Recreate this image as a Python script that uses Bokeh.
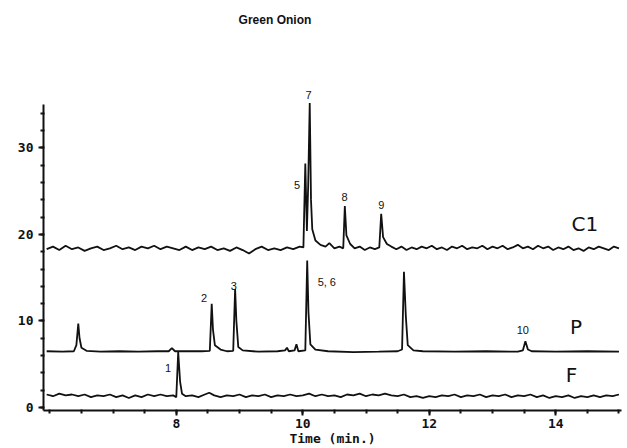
from bokeh.plotting import figure
from bokeh.models import Label, FixedTicker, Range1d
from bokeh.embed import file_html
from bokeh.resources import INLINE

# ---- data ----
c1_time = [5.95, 6.05, 6.15, 6.25, 6.35, 6.45, 6.55, 6.65, 6.75, 6.85, 6.95, 7.05, 7.15, 7.25, 7.35,
           7.45, 7.55, 7.65, 7.75, 7.85, 7.95, 8.05, 8.15, 8.25, 8.35, 8.45, 8.55, 8.65, 8.75, 8.85,
           8.95, 9.05, 9.15, 9.25, 9.35, 9.45, 9.55, 9.65, 9.75, 9.85, 9.95, 10.01, 10.04, 10.065,
           10.085, 10.11, 10.13, 10.15, 10.2, 10.28, 10.36, 10.42, 10.5, 10.58, 10.64, 10.665, 10.69,
           10.75, 10.82, 10.9, 10.98, 11.06, 11.14, 11.21, 11.24, 11.27, 11.33, 11.4, 11.48, 11.56,
           11.64, 11.72, 11.8, 11.88, 11.96, 12.04, 12.12, 12.2, 12.28, 12.36, 12.44, 12.52, 12.6,
           12.68, 12.76, 12.84, 12.92, 13.0, 13.08, 13.16, 13.24, 13.32, 13.4, 13.48, 13.56, 13.64,
           13.72, 13.8, 13.88, 13.96, 14.04, 14.12, 14.2, 14.28, 14.36, 14.44, 14.52, 14.6, 14.68,
           14.76, 14.84, 14.92, 15.0]
c1_signal = [18.3, 18.6, 18.2, 18.7, 18.3, 18.5, 18.1, 18.4, 18.6, 18.2, 18.4, 18.7, 18.3, 18.5, 18.2,
             18.6, 18.4, 18.7, 18.3, 18.6, 18.4, 18.2, 18.6, 18.2, 18.5, 18.3, 18.6, 18.2, 18.4, 18.1,
             18.5, 18.2, 17.8, 18.3, 18.6, 18.2, 18.4, 18.2, 18.5, 18.3, 18.6, 18.5, 28.2, 20.4,
             25.5, 35.2, 24.0, 20.6, 19.3, 18.8, 18.6, 19.0, 18.4, 18.6, 18.4, 23.3, 19.9,
             18.9, 18.4, 18.6, 18.2, 18.5, 18.3, 18.5, 22.4, 19.7, 18.9, 18.6, 18.3, 18.6,
             18.2, 18.5, 18.3, 18.6, 18.4, 18.7, 18.3, 18.5, 18.2, 18.6, 18.4, 18.7, 18.3,
             18.5, 18.4, 18.7, 18.3, 18.6, 18.4, 18.7, 18.3, 18.5, 18.8, 18.4, 18.6, 18.3,
             18.7, 18.4, 18.6, 18.2, 18.5, 18.3, 18.6, 18.2, 18.4, 18.1, 18.5, 18.3, 18.6,
             18.4, 18.2, 18.6, 18.4]

p_time = [5.95, 6.2, 6.38, 6.42, 6.45, 6.47, 6.5, 6.58, 6.8, 7.1, 7.4, 7.7, 7.88, 7.93, 7.98, 8.2,
          8.4, 8.53, 8.56, 8.58, 8.61, 8.7, 8.8, 8.9, 8.93, 8.95, 8.98, 9.05, 9.3, 9.6, 9.72, 9.75,
          9.78, 9.87, 9.9, 9.93, 10.04, 10.07, 10.09, 10.12, 10.2, 10.4, 10.8, 11.2, 11.5, 11.57,
          11.6, 11.63, 11.66, 11.75, 11.9, 12.4, 12.9, 13.4, 13.48, 13.52, 13.56, 13.62, 14.0,
          14.5, 15.0]
p_signal = [6.5, 6.45, 6.5, 7.2, 9.7, 8.0, 6.9, 6.55, 6.45, 6.5, 6.45, 6.5, 6.5, 6.85, 6.5, 6.5,
            6.5, 6.55, 12.0, 9.0, 7.2, 6.7, 6.5, 6.55, 13.7, 10.0, 7.0, 6.6, 6.45, 6.5, 6.6, 6.9,
            6.5, 6.6, 7.3, 6.5, 6.6, 17.0, 11.0, 7.3, 6.7, 6.5, 6.4, 6.45, 6.5, 6.7,
            15.7, 10.5, 7.2, 6.6, 6.5, 6.45, 6.5, 6.45, 6.6, 7.65, 6.7, 6.5, 6.45,
            6.5, 6.45]

f_time = [5.95, 6.05, 6.15, 6.25, 6.35, 6.45, 6.55, 6.65, 6.75, 6.85, 6.95, 7.05, 7.15, 7.25, 7.35,
          7.45, 7.55, 7.65, 7.75, 7.85, 7.95, 8.0, 8.03, 8.06, 8.09, 8.15, 8.25, 8.35, 8.45, 8.52,
          8.6, 8.7, 8.8, 8.9, 9.0, 9.1, 9.2, 9.3, 9.4, 9.5, 9.6, 9.7, 9.8, 9.9, 10.0, 10.1, 10.2,
          10.3, 10.4, 10.5, 10.6, 10.7, 10.8, 10.9, 11.0, 11.1, 11.2, 11.3, 11.4, 11.5, 11.6, 11.7,
          11.8, 11.9, 12.0, 12.1, 12.2, 12.3, 12.4, 12.5, 12.6, 12.7, 12.8, 12.9, 13.0, 13.1, 13.2,
          13.3, 13.4, 13.5, 13.6, 13.7, 13.8, 13.9, 14.0, 14.1, 14.2, 14.3, 14.4, 14.5, 14.6, 14.7,
          14.8, 14.9, 15.0]
f_signal = [1.5, 1.3, 1.6, 1.4, 1.5, 1.3, 1.5, 1.2, 1.4, 1.3, 1.5, 1.2, 1.4, 1.1, 1.4,
            1.2, 1.5, 1.3, 1.5, 1.3, 1.4, 1.2, 6.4, 3.0, 1.6, 1.3, 1.4, 1.2, 1.5, 1.7,
            1.4, 1.2, 1.4, 1.3, 1.5, 1.2, 1.4, 1.3, 1.5, 1.2, 1.4, 1.3, 1.5, 1.3, 1.4, 1.6, 1.3,
            1.5, 1.3, 1.4, 1.2, 1.5, 1.4, 1.6, 1.3, 1.5, 1.4, 1.6, 1.4, 1.3, 1.5, 1.2,
            1.3, 1.1, 1.3, 1.2, 1.4, 1.3, 1.5, 1.2, 1.4, 1.3, 1.5, 1.2, 1.4, 1.3, 1.5,
            1.2, 1.4, 1.3, 1.5, 1.2, 1.4, 1.1, 1.3, 1.2, 1.4, 1.1, 1.3, 1.2, 1.4, 1.2,
            1.4, 1.3, 1.5]

peak_labels = ["1", "2", "3", "5", "7", "8", "9", "5, 6", "10"]
peak_label_x = [7.87, 8.44, 8.91, 9.91, 10.09, 10.66, 11.24, 10.38, 13.48]
peak_label_y = [4.6, 12.7, 14.0, 25.7, 36.1, 24.3, 23.4, 14.5, 9.0]

trace_names = ["C1", "P", "F"]
trace_name_x = [14.46, 14.32, 14.25]
trace_name_y = [21.2, 9.3, 3.8]

x_ticks = [8, 10, 12, 14]
y_ticks = [0, 10, 20, 30]
title_text = "Green Onion"
x_label = "Time (min.)"

# ---- figure ----
p = figure(width=627, height=448, output_backend="svg", toolbar_location=None,
           x_range=Range1d(5.9, 15.04), y_range=Range1d(-0.35, 47.05),
           min_border_left=43, min_border_right=6, min_border_top=0, min_border_bottom=37)
p.outline_line_color = None
p.xgrid.visible = False
p.ygrid.visible = False
p.background_fill_color = "white"

ink = "#111111"

for t, s in [(c1_time, c1_signal), (p_time, p_signal), (f_time, f_signal)]:
    p.line(t, s, line_color=ink, line_width=1.8)

for txt, x, y in zip(peak_labels, peak_label_x, peak_label_y):
    p.add_layout(Label(x=x, y=y, text=txt, text_align="center", text_baseline="middle",
                       text_font="Liberation Sans", text_font_size="11px", text_color=ink))
for txt, x, y in zip(trace_names, trace_name_x, trace_name_y):
    p.add_layout(Label(x=x, y=y, text=txt, text_align="center", text_baseline="middle",
                       text_font="DejaVu Sans", text_font_size="20px", text_color=ink))

p.add_layout(Label(x=9.56, y=44.75, text=title_text, text_align="center", text_baseline="middle",
                   text_font="Liberation Sans", text_font_style="bold",
                   text_font_size="12px", text_color=ink))

xa = p.xaxis[0]
xa.ticker = FixedTicker(ticks=x_ticks, minor_ticks=[6 + 0.5 * i for i in range(19)])
xa.axis_label = x_label
ya = p.yaxis[0]
ya.ticker = FixedTicker(ticks=y_ticks, minor_ticks=[2 * i for i in range(18)])
ya.bounds = (-0.35, 35.0)

for ax in (xa, ya):
    ax.axis_line_width = 2
    ax.axis_line_color = ink
    ax.major_tick_line_color = ink
    ax.major_tick_line_width = 2
    ax.minor_tick_line_color = ink
    ax.minor_tick_line_width = 2
    ax.major_tick_out = 5
    ax.major_tick_in = 0
    ax.minor_tick_out = 3
    ax.minor_tick_in = 1
    ax.major_label_text_font = "DejaVu Sans Mono"
    ax.major_label_text_font_style = "bold"
    ax.major_label_text_font_size = "13px"
    ax.major_label_text_color = ink
    ax.major_label_standoff = 3

ya.major_label_standoff = 5
xa.axis_label_text_font = "DejaVu Sans Mono"
xa.axis_label_text_font_style = "bold"
xa.axis_label_text_font_size = "13px"
xa.axis_label_text_color = ink
xa.axis_label_standoff = 0

open("out.html", "w").write(file_html(p, INLINE))
